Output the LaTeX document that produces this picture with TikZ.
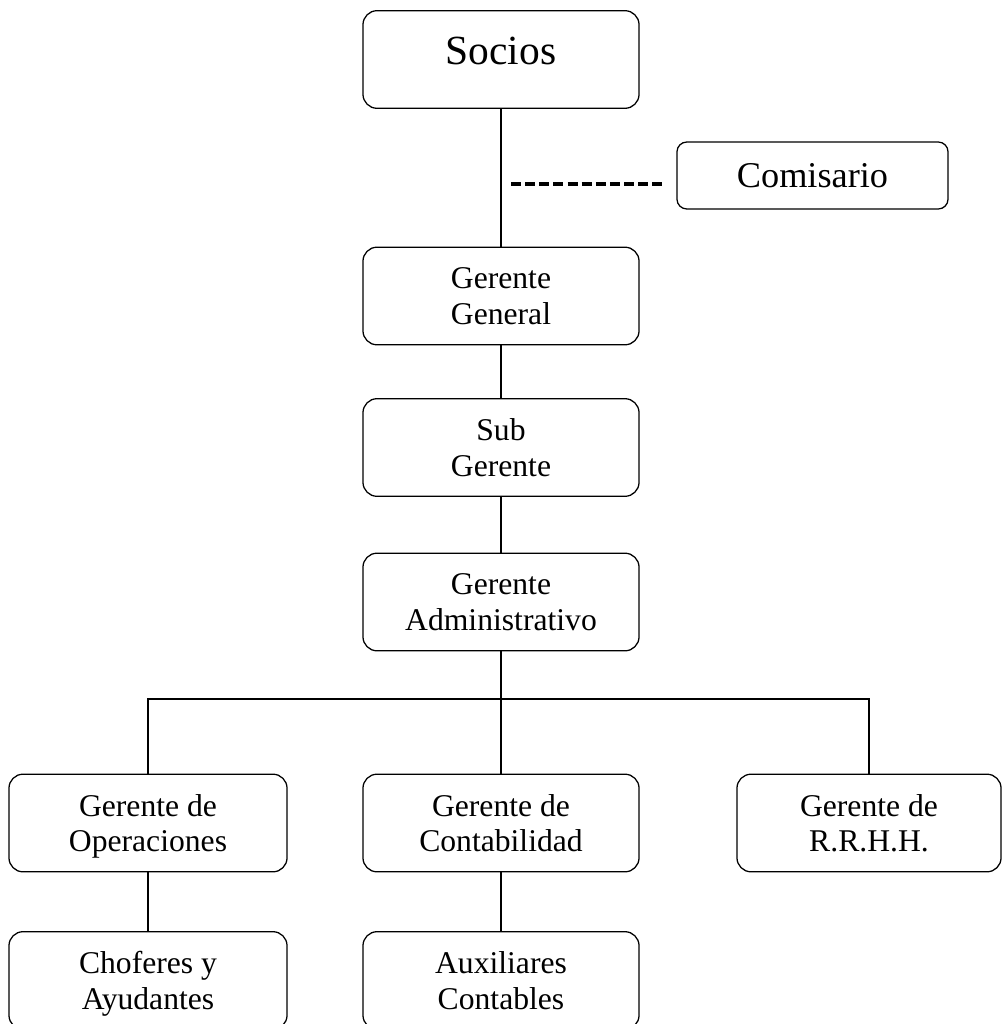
\documentclass[tikz,border=0pt]{standalone}
\usepackage{fontspec}
\setmainfont{Liberation Serif}
\usetikzlibrary{positioning}

\begin{document}
\begin{tikzpicture}[x=0.025cm, y=-0.025cm,
    font=\fontsize{22.5}{25.5}\selectfont,
    orgbox/.style={draw, line width=0.9pt, rounded corners=10pt,
                   minimum width=6.9cm, minimum height=2.44cm,
                   align=center, text depth=0pt, inner sep=2pt},
    link/.style={line width=0.75pt}]
  \useasboundingbox (0,0) rectangle (1001,1024);
  % top of the chart
  \node[orgbox, text depth=12pt, font=\fontsize{29.5}{33}\selectfont]
    (socios) at (501,59.5) {Socios};
  \node[orgbox, minimum width=6.775cm, minimum height=1.675cm,
        rounded corners=7pt, font=\fontsize{25.8}{29}\selectfont]
    (comisario) at (812.5,175.5) {Comisario};
  \node[orgbox] (gg) at (501,296) {Gerente\\General};
  \node[orgbox] (sub) at (501,447.5) {Sub\\Gerente};
  \node[orgbox] (adm) at (501,602) {Gerente\\Administrativo};
  % departments
  \node[orgbox, minimum width=6.95cm] (ope) at (148,823) {Gerente de\\Operaciones};
  \node[orgbox] (cont) at (501,823) {Gerente de\\Contabilidad};
  \node[orgbox, minimum width=6.6cm] (rrhh) at (869,823) {Gerente de\\R.R.H.H.};
  \node[orgbox, minimum width=6.95cm] (chof) at (148,980.5) {Choferes y\\Ayudantes};
  \node[orgbox] (aux) at (501,980.5) {Auxiliares\\Contables};
  % connectors
  \coordinate (bus) at (501,699);
  \coordinate (dashL) at (511,184);
  \coordinate (dashR) at (663,184);
  \draw[link] (socios) -- (gg);
  \draw[line width=2.6pt, dash pattern=on 7.1pt off 2.95pt] (dashL) -- (dashR);
  \draw[link] (gg) -- (sub);
  \draw[link] (sub) -- (adm);
  \draw[link] (adm) -- (cont);
  \draw[link] (ope.north) |- (bus) -| (rrhh.north);
  \draw[link] (ope) -- (chof);
  \draw[link] (cont) -- (aux);
\end{tikzpicture}
\end{document}
